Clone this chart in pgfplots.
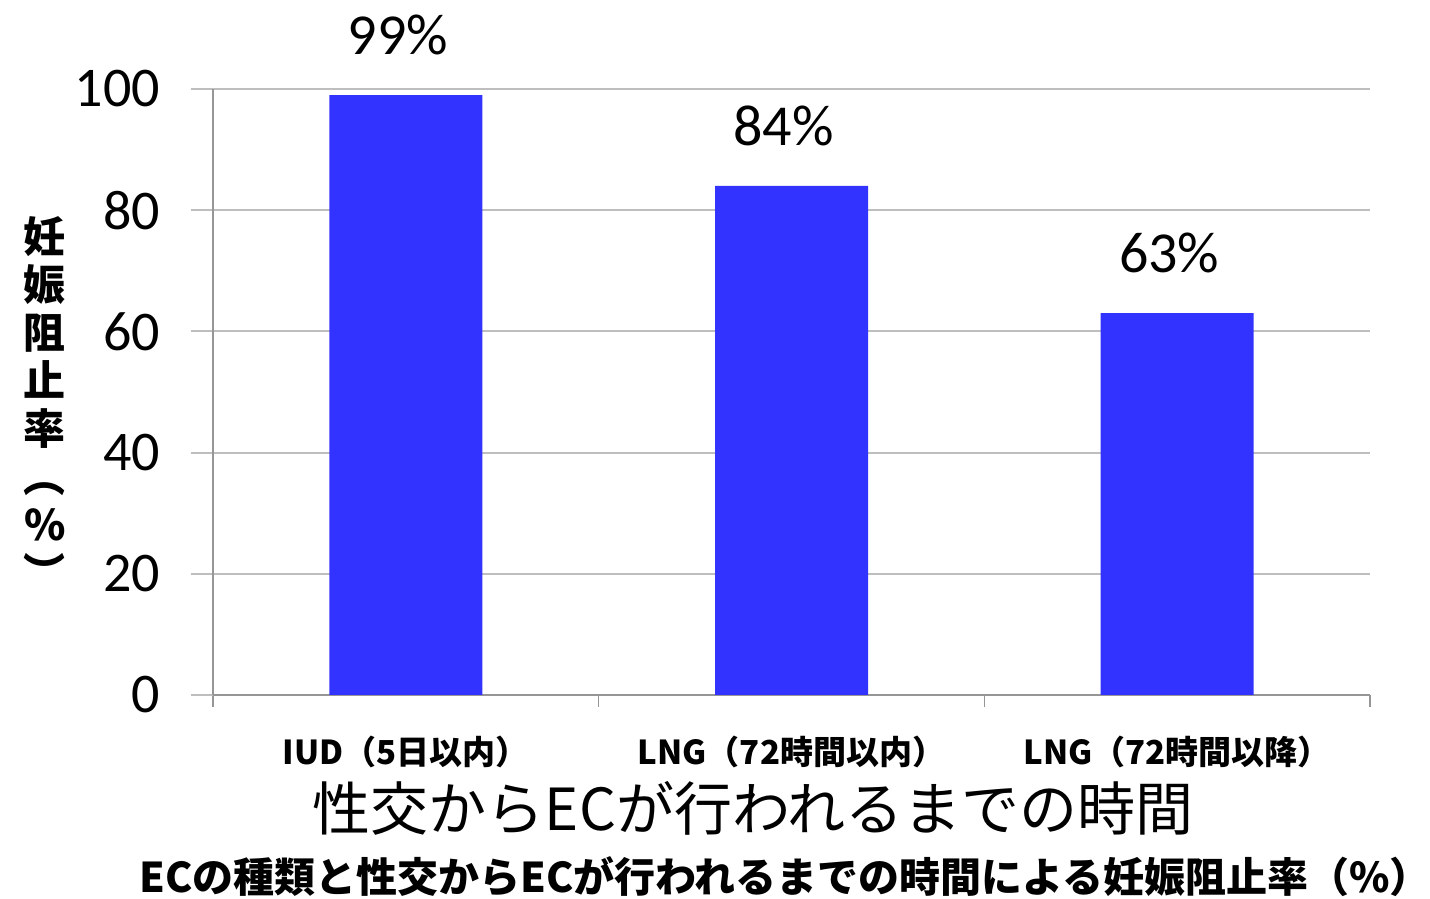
\documentclass[border=0pt]{standalone}
\usepackage{fontspec}
\setmainfont{Carlito}
\newfontfamily\jp{Noto Sans CJK JP}
\usepackage{pgfplots}
\pgfplotsset{compat=1.18}
\definecolor{barblue}{RGB}{51,51,255}
\definecolor{gridgray}{RGB}{190,190,190}
\definecolor{axgray}{RGB}{150,150,150}
\begin{document}
\begin{tikzpicture}
\useasboundingbox (-106.5pt,-102pt) rectangle (608.5pt,347.5pt);
\begin{axis}[
  at={(0,0)}, anchor=south west,
  scale only axis, width=578.5pt, height=303pt,
  xmin=-0.5, xmax=2.5, ymin=0, ymax=100,
  ytick={0,20,40,60,80,100},
  xtick={0,1,2},
  xticklabels={{IUD（5日以内）},{LNG（72時間以内）},{LNG（72時間以降）}},
  minor xtick={-0.5,0.5,1.5,2.5},
  major x tick style={draw=none},
  minor x tick style={axgray, line width=0.8pt},
  minor tick length=6pt,
  ymajorgrids, grid style={gridgray, line width=1pt},
  y tick style={gridgray, line width=1pt},
  major tick length=11pt,
  tick align=outside,
  axis x line*=bottom, axis y line*=left,
  x axis line style={axgray, line width=1pt, -},
  y axis line style={axgray, line width=1pt, -},
  /pgf/number format/assume math mode=true,
  yticklabel style={font=\fontsize{28}{32}\selectfont, xshift=-12pt},
  xticklabel style={font=\jp\bfseries\fontsize{16.5}{18}\selectfont, yshift=-6pt},
  clip=false,
  ybar, bar width=76.5pt,
  nodes near coords={\pgfmathprintnumber{\pgfplotspointmeta}\%},
  every node near coord/.append style={font=\fontsize{29}{32}\selectfont, yshift=16.5pt, xshift=-4pt, black},
]
\addplot[fill=barblue, draw=none] coordinates {(0,99) (1,84) (2,63)};
\end{axis}
\node[font=\jp\fontsize{29}{32}\selectfont] at (270pt,-56.5pt) {性交からECが行われるまでの時間};
\node[font=\jp\bfseries\fontsize{20.5}{24}\selectfont] at (286pt,-91pt) {ECの種類と性交からECが行われるまでの時間による妊娠阻止率（\%）};
\node[font=\jp\bfseries\fontsize{21}{24}\selectfont, align=center, inner sep=0pt] at (-84pt,146pt) {妊\\娠\\阻\\止\\率\\︵\\\%\\︶};
\end{tikzpicture}
\end{document}
